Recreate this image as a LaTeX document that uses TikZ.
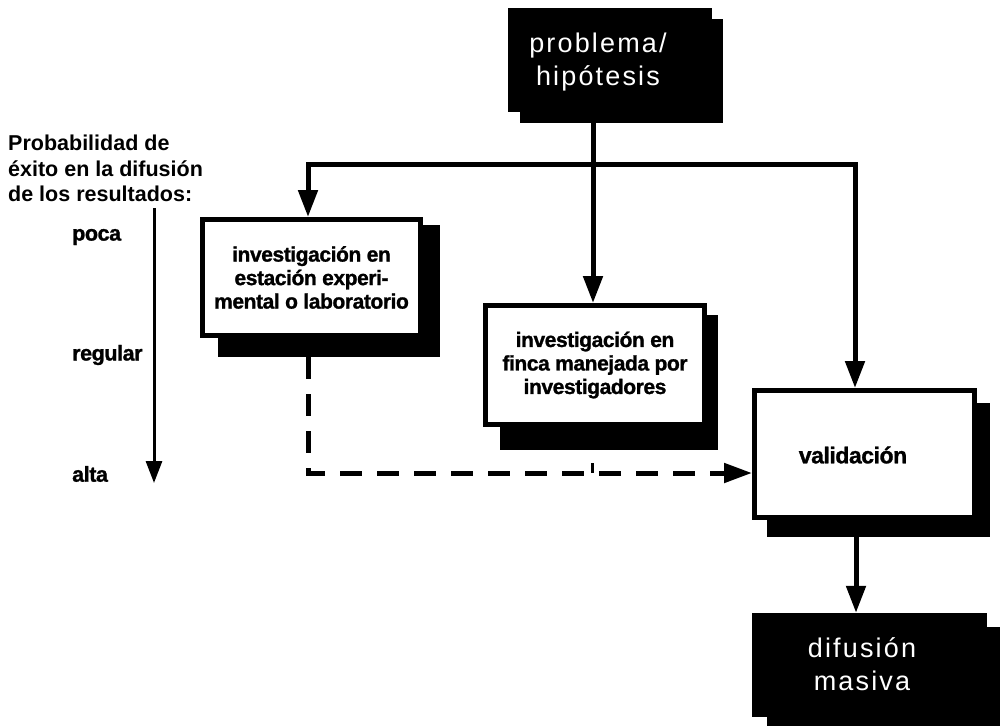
\documentclass[tikz,border=0pt]{standalone}
\usepackage{fontspec}
\setmainfont{Liberation Sans}
\newfontfamily\spacedfont[LetterSpace=8]{Liberation Sans}
\newfontfamily\heavyfont[FakeBold=1.2, LetterSpace=-2]{Liberation Sans Bold}
\usetikzlibrary{arrows.meta,calc}

\tikzset{
  box/.style={draw=black, line width=5pt, fill=white, rectangle, inner sep=0pt,
    font=\fontsize{21}{23.5}\selectfont\heavyfont, align=center},
  darkbox/.style={fill=black, rectangle, inner sep=0pt},
  darktext/.style={text=white, font=\fontsize{27}{33}\selectfont\spacedfont, align=center, inner sep=0pt},
  shade/.style={fill=black},
  flow/.style={line width=5pt, -{Triangle[length=27pt,width=19pt]}},
  plain/.style={line width=5pt},
  dashflow/.style={line width=5pt, dash pattern=on 22pt off 15pt, -{Triangle[length=28pt,width=19pt]}},
  scale label/.style={font=\fontsize{21.5}{24}\selectfont\heavyfont, anchor=west, inner sep=0pt},
  heading/.style={font=\fontsize{21.5}{25.5}\selectfont\bfseries, anchor=north west, align=left, inner sep=0pt},
}

\begin{document}
\begin{tikzpicture}[x=1pt, y=-1pt]
  \useasboundingbox (0,0) rectangle (1004,726);

  % drop shadows
  \fill[shade] (520,19) rectangle (723,123);
  \fill[shade] (218,225) rectangle (440,357);
  \fill[shade] (500,315) rectangle (718,450);
  \fill[shade] (767,403) rectangle (990,537);
  \fill[shade] (767,627) rectangle (1000,726);

  % boxes
  \node[darkbox, minimum width=204pt, minimum height=104pt] (prob) at (610,60) {};
  \node[darktext] (probtxt) at (598,62) {problema/\\hipótesis};

  \node[box, minimum width=218pt, minimum height=116pt] (lab) at (311.5,277.5)
    {investigación en\\estación experi-\\mental o laboratorio};

  \node[box, minimum width=219pt, minimum height=119pt] (finca) at (595,365)
    {investigación en\\finca manejada por\\investigadores};

  \node[box, minimum width=220pt, minimum height=127pt] (valid) at (864.5,454) {};
  \node[font=\fontsize{23}{26}\selectfont\heavyfont, inner sep=0pt] (validtxt) at (853,455) {validación};

  \node[darkbox, minimum width=235pt, minimum height=104pt] (dif) at (869.5,665) {};
  \node[darktext] (diftxt) at (862,664) {difusión\\masiva};

  % branching from the problem statement
  \coordinate (split) at (593,164);
  \coordinate (leftturn) at (308,164);
  \coordinate (rightturn) at (855,164);
  \draw[plain] (prob.south -| split) -- (split);
  \draw[flow] (split) -- (finca.north -| split);
  \draw[flow, line join=miter] (split) -- (leftturn) -- (lab.north -| leftturn);
  \draw[flow, line join=miter] (split) -- (rightturn) -- (valid.north -| rightturn);

  % dashed path from the station research to validation
  \coordinate (dstart) at (308,357);
  \coordinate (dcorner) at (308,473);
  \draw[plain] (lab.south -| dstart) -- (dstart);
  \draw[dashflow] (dstart) -- (dcorner) -- (valid.west |- dcorner);
  \coordinate (tick) at (592,463);
  \draw[line width=3pt] (tick) -- (tick |- dcorner);

  % validation to mass diffusion
  \coordinate (down) at (856,537);
  \draw[flow] (down) -- (dif.north -| down);

  % probability scale on the left
  \node[heading] (head) at (8,135) {Probabilidad de\\éxito en la difusión\\de los resultados:};
  \coordinate (axtop) at (154,208);
  \coordinate (axbot) at (154,483);
  \draw[line width=3pt, -{Triangle[length=22pt,width=16pt]}] (axtop) -- (axbot);
  \node[scale label] (poca) at (72,237) {poca};
  \node[scale label] (regular) at (72,355) {regular};
  \node[scale label] (alta) at (72,474) {alta};
\end{tikzpicture}
\end{document}
